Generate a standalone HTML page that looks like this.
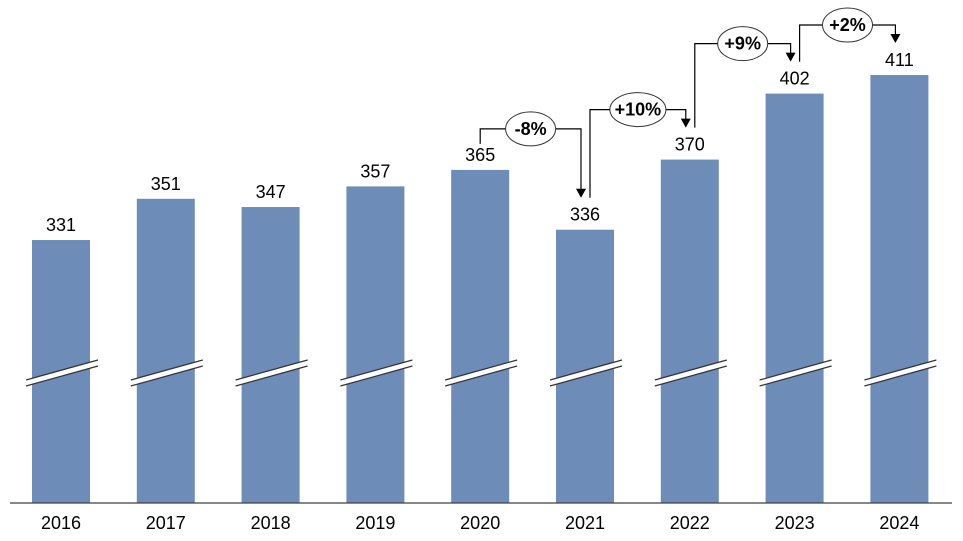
<!DOCTYPE html>
<html><head><meta charset="utf-8"><style>
body{margin:0;background:#fff}
svg{display:block;font-family:"Liberation Sans",Calibri,sans-serif}
</style></head><body>
<svg id="c" width="963" height="541"></svg>
<script>
const years=["2016","2017","2018","2019","2020","2021","2022","2023","2024"];
const values=[331,351,347,357,365,336,370,402,411];
const changeLabels=["","","","","-8%","+10%","+9%","+2%"];
const NS="http://www.w3.org/2000/svg";
const svg=document.getElementById("c");
function mk(t,a,p){const e=document.createElementNS(NS,t);for(const k in a)e.setAttribute(k,a[k]);(p||svg).appendChild(e);return e;}
const base=503, k=2.0625, v0=203.5;
const y=v=>base-(v-v0)*k;
const x0=32, step=104.8, bw=58;
const xc=i=>x0+i*step+bw/2;
values.forEach((v,i)=>{
  const g=mk("g",{});
  
  
  mk("rect",{x:xc(i)-bw/2,y:y(v),width:bw,height:base-y(v),fill:"#6d8cb7"},g);
  const bx1=xc(i)-35,bx2=xc(i)+37,by1=380,by2=360;
  mk("polygon",{points:`${bx1},${by1} ${bx2},${by2} ${bx2},${by2+6} ${bx1},${by1+6}`,fill:"#fff"},g);
  mk("line",{x1:bx1,y1:by1,x2:bx2,y2:by2,stroke:"#333","stroke-width":1.2},g);
  mk("line",{x1:bx1,y1:by1+6,x2:bx2,y2:by2+6,stroke:"#333","stroke-width":1.2},g);
  const t=mk("text",{x:xc(i),y:y(v)-9,"text-anchor":"middle","font-size":18,fill:"#000"});
  t.textContent=v;
  
  
  const a=mk("text",{x:xc(i),y:529,"text-anchor":"middle","font-size":18,fill:"#000"});
  a.textContent=years[i];
  
  
});
const ax=mk("line",{x1:10,y1:base,x2:952,y2:base,stroke:"#404040","stroke-width":1.2});


changeLabels.forEach((lab,i)=>{
  if(!lab)return;
  const tA=y(values[i]),tB=y(values[i+1]);
  const down=values[i+1]<values[i];
  const hy=Math.min(tA,tB)-(down?41:50);
  const sx=xc(i)+(down?0:5), sy=tA-(down?26:32);
  const ex=xc(i+1)-4, ey=tB-32;
  const g=mk("g",{});
  
  
  mk("polyline",{points:`${sx},${sy} ${sx},${hy} ${ex},${hy} ${ex},${ey-8}`,fill:"none",stroke:"#000","stroke-width":1.2},g);
  mk("polygon",{points:`${ex-5},${ey-9} ${ex+5},${ey-9} ${ex},${ey}`,fill:"#000"},g);
  const cx=(sx+ex)/2, w=lab.length>3?46:40;
  mk("ellipse",{cx:cx,cy:hy,rx:w/2+5,ry:17,fill:"#fff",stroke:"#333","stroke-width":1},g);
  const t=mk("text",{x:cx,y:hy+6,"text-anchor":"middle","font-size":18,"font-weight":"bold",fill:"#000"},g);
  t.textContent=lab;
});
</script>
</body></html>
